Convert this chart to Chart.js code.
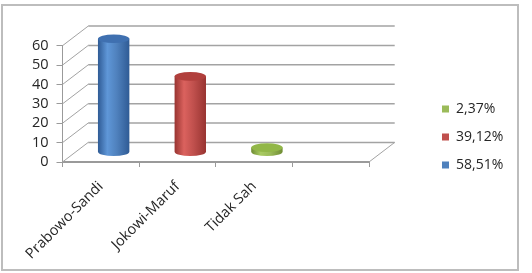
<!DOCTYPE html>
<html>
<head>
<meta charset="utf-8">
<script src="https://cdn.jsdelivr.net/npm/chart.js@4"></script>
<style>
  html, body { margin: 0; padding: 0; background: #fff; }
  canvas { display: block; }
</style>
</head>
<body>
<canvas id="suaraChart" width="532" height="273"></canvas>
<script>
    // ======= 데이터 =======
    const categories = ['Prabowo-Sandi', 'Jokowi-Maruf', 'Tidak Sah', ''];
    const prabowoSandi = [58.51, null, null, null];
    const jokowiMaruf = [null, 39.12, null, null];
    const tidakSah = [null, null, 2.37, null];
    const seriesLabels = ['58,51%', '39,12%', '2,37%'];
    const yMin = 0, yMax = 60, yStep = 10;

    // ======= 3D 모양 =======
    const depthX = 25.7, depthY = 19.6;   // 뒷벽까지 거리
    const shades = [
      { base: '#4f81bd', edge: '#2f5b95', light: '#5f97d8', top: '#3f70b0' },
      { base: '#c0504d', edge: '#983431', light: '#db625e', top: '#b13f3c' },
      { base: '#9bbb59', edge: '#6f8c33', light: '#a9cb62', top: '#92b748' }
    ];

    // 바깥 테두리
    const frame = {
      id: 'frame',
      beforeDraw(chart) {
        const { ctx } = chart;
        ctx.save();
        ctx.fillStyle = '#fff';
        ctx.fillRect(0, 0, chart.width, chart.height);
        ctx.strokeStyle = '#bdbdbd';
        ctx.lineWidth = 2;
        ctx.strokeRect(2, 5, 516, 265);
        ctx.restore();
      }
    };

    // 뒷벽 격자 + 사선
    const walls = {
      id: 'walls',
      beforeDatasetsDraw(chart) {
        const { ctx, chartArea: a, scales: { y } } = chart;
        ctx.save();
        y.ticks.forEach(t => {
          const py = y.getPixelForValue(t.value);
          ctx.strokeStyle = '#a3a3a3';
          ctx.lineWidth = 1;
          ctx.beginPath();
          ctx.moveTo(a.left, py);
          ctx.lineTo(a.left + depthX, py - depthY);
          ctx.stroke();
          ctx.lineWidth = 1.5;
          ctx.beginPath();
          ctx.moveTo(a.left + depthX, py - depthY);
          ctx.lineTo(a.right + depthX, py - depthY);
          ctx.stroke();
        });
        // 바닥 오른쪽 사선
        const p0 = y.getPixelForValue(yMin);
        ctx.lineWidth = 1;
        ctx.beginPath();
        ctx.moveTo(a.right, p0);
        ctx.lineTo(a.right + depthX, p0 - depthY);
        ctx.stroke();
        ctx.restore();
      }
    };

    // 원기둥 막대
    const cylinders = {
      id: 'cylinders',
      beforeDatasetDraw(chart, args) {
        const { ctx } = chart;
        const ds = chart.data.datasets[args.index];
        const s = shades[args.index];
        args.meta.data.forEach((bar, i) => {
          if (ds.data[i] == null) return;
          const rx = bar.width / 2, ry = 4.3;
          const cx = bar.x + depthX / 2;
          const top = bar.y - depthY / 2;
          const bottom = bar.base - depthY / 2;
          ctx.save();
          const g = ctx.createLinearGradient(cx - rx, 0, cx + rx, 0);
          g.addColorStop(0, s.edge);
          g.addColorStop(0.3, s.light);
          g.addColorStop(0.6, s.base);
          g.addColorStop(1, s.edge);
          ctx.fillStyle = g;
          ctx.beginPath();
          ctx.moveTo(cx - rx, top);
          ctx.lineTo(cx - rx, bottom);
          ctx.ellipse(cx, bottom, rx, ry, 0, Math.PI, 0, true);
          ctx.lineTo(cx + rx, top);
          ctx.closePath();
          ctx.fill();
          ctx.fillStyle = s.top;
          ctx.beginPath();
          ctx.ellipse(cx, top, rx, ry, 0, 0, Math.PI * 2);
          ctx.fill();
          ctx.restore();
        });
        return false;
      }
    };

    // 범례 위치
    const legendSpot = {
      id: 'legendSpot',
      afterLayout(chart) {
        const lg = chart.legend;
        lg.left = 428;
        lg.right = lg.left + lg.width;
        lg.top = 88;
        lg.bottom = lg.top + lg.height;
      }
    };

    Chart.defaults.font.family = '"Open Sans", sans-serif';
    Chart.defaults.font.size = 14;
    Chart.defaults.color = '#262626';

    new Chart(document.getElementById('suaraChart'), {
      type: 'bar',
      data: {
        labels: categories,
        datasets: [
          { label: seriesLabels[0], data: prabowoSandi, backgroundColor: shades[0].base },
          { label: seriesLabels[1], data: jokowiMaruf, backgroundColor: shades[1].base },
          { label: seriesLabels[2], data: tidakSah, backgroundColor: shades[2].base }
        ]
      },
      options: {
        responsive: false,
        animation: false,
        devicePixelRatio: 1,
        layout: { padding: { left: 0, top: 45.7, right: 163, bottom: 0 } },
        datasets: { bar: { grouped: false, categoryPercentage: 1, barPercentage: 0.41 } },
        plugins: {
          legend: {
            position: 'chartArea',
            align: 'start',
            reverse: true,
            labels: { boxWidth: 7, boxHeight: 7, padding: 14, color: '#262626' }
          },
          tooltip: { enabled: false }
        },
        scales: {
          x: {
            grid: { drawOnChartArea: false, tickLength: 5, color: '#9a9a9a', offset: true },
            border: { color: '#9a9a9a', width: 2 },
            ticks: { minRotation: 45, maxRotation: 45, padding: 11, font: { size: 14.5 } },
            afterFit: s => { s.height = 111; }
          },
          y: {
            min: yMin, max: yMax,
            grid: { drawOnChartArea: false, tickLength: 6, color: '#9a9a9a' },
            border: { color: '#9a9a9a' },
            ticks: { stepSize: yStep, padding: 8, autoSkip: false, font: { size: 14.5 } },
            afterFit: s => { s.width = 62.5; }
          }
        }
      },
      plugins: [frame, walls, cylinders, legendSpot]
    });
</script>
</body>
</html>
